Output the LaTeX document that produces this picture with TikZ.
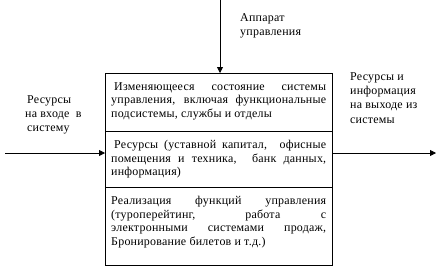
\documentclass[tikz,border=0pt]{standalone}
\usepackage{fontspec}
\setmainfont{Liberation Serif}[LetterSpace=2]
\usetikzlibrary{arrows.meta}
\tikzset{
  sect/.style={draw, line width=0.8bp, minimum width=227bp, anchor=north west, inner sep=0pt},
  stext/.style={text width=215bp, inner sep=0pt, anchor=north west, align=justify, font=\fontsize{12}{13.6}\selectfont},
  lbl/.style={align=left, inner sep=0pt, anchor=north west, font=\fontsize{12}{14.5}\selectfont},
  arr/.style={line width=0.8bp, -{Triangle[length=6bp,width=6bp]}}
}
\begin{document}
\begin{tikzpicture}[x=1bp,y=-1bp]
\useasboundingbox (0,0) rectangle (441,271);
\node[sect, minimum height=58bp] (s1) at (105,73) {};
\node[sect, minimum height=56bp] (s2) at (105,131) {};
\node[sect, minimum height=78bp] (s3) at (105,187) {};
\node[stext] (t1) at (111,82) {\hspace*{3bp}Изменяющееся состояние системы\linebreak управления, включая функциональные\linebreak подсистемы, службы и отделы\par};
\node[stext] (t2) at (111,140) {\hspace*{3bp}Ресурсы (уставной капитал, \ офисные\linebreak помещения и техника, \ банк данных,\linebreak информация)\par};
\node[stext] (t3) at (111,196) {Реализация функций управления\linebreak (туроперейтинг, работа с\linebreak электронными системами продаж,\linebreak Бронирование билетов и т.д.)\par};
\coordinate (top) at (220,0);
\coordinate (in) at (5,153);
\coordinate (out) at (436,153);
\draw[arr] (top) -- (top |- s1.north);
\draw[arr] (in) -- (in -| s2.west);
\draw[arr] (in -| s2.east) -- (out);
\node[lbl] (ap) at (240,13) {Аппарат\\управления};
\node[lbl] (inl) at (25,95) {\,Ресурсы\\на входе \ в\\\,систему};
\node[lbl] (outl) at (350,72) {Ресурсы и\\информация\\на выходе из\\системы};
\end{tikzpicture}
\end{document}
